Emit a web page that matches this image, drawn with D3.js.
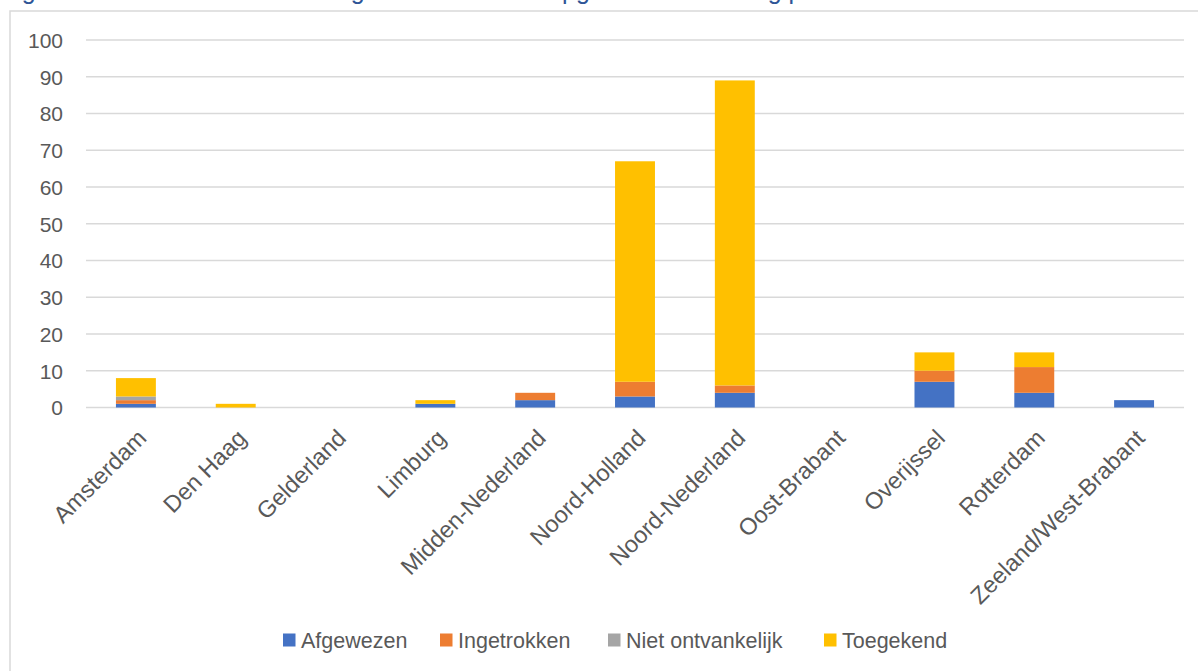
<!DOCTYPE html>
<html><head><meta charset="utf-8">
<script src="https://cdn.jsdelivr.net/npm/d3@7"></script>
<style>
html,body{margin:0;padding:0;background:#fff;}
svg{display:block;}
text{font-family:"Liberation Sans",Arial,sans-serif;}
</style></head>
<body>
<svg id="chart" width="1198" height="671"></svg>
<script>
const categories = ["Amsterdam","Den Haag","Gelderland","Limburg","Midden-Nederland","Noord-Holland","Noord-Nederland","Oost-Brabant","Overijssel","Rotterdam","Zeeland/West-Brabant"];
const seriesNames = ["Afgewezen","Ingetrokken","Niet ontvankelijk","Toegekend"];
const afgewezen       = [1,0,0,1,2,3,4,0,7,4,2];
const ingetrokken     = [1,0,0,0,2,4,2,0,3,7,0];
const nietOntvankelijk= [1,0,0,0,0,0,0,0,0,0,0];
const toegekend       = [5,1,0,1,0,60,83,0,5,4,0];
const yTicks = [0,10,20,30,40,50,60,70,80,90,100];
const colors = ["#4472C4","#ED7D31","#A5A5A5","#FFC000"];
const titleText = "Figuur 7: Totaal aantal beslissingen in verzoeken opgave en afdoening per arrondissement";

const svg = d3.select("#chart");
const W = 1198, H = 671;
const plot = {left:86, right:1184, top:40, bottom:407.5};

// title, cut off by the top edge as in the reference (only descenders visible)
svg.append("text").attr("x",1).attr("y",-1)
  .attr("font-size",25).attr("fill","#2F5597").text(titleText);

// chart frame
svg.append("rect").attr("x",10).attr("y",11).attr("width",W+20).attr("height",H+20)
  .attr("fill","none").attr("stroke","#D9D9D9").attr("stroke-width",1.5);

const x = d3.scaleBand().domain(categories).range([plot.left, plot.right]).paddingInner(0.6).paddingOuter(0.3);
const y = d3.scaleLinear().domain([0,100]).range([plot.bottom, plot.top]);

// gridlines
svg.append("g").selectAll("line").data(yTicks).join("line")
  .attr("x1",plot.left).attr("x2",plot.right)
  .attr("y1",d=>y(d)).attr("y2",d=>y(d))
  .attr("stroke","#D9D9D9").attr("stroke-width",1.5);

// y axis labels
const yAxis = d3.axisLeft(y).tickValues(yTicks).tickSize(0).tickPadding(0);
const ya = svg.append("g").attr("transform",`translate(63,0)`).call(yAxis);
ya.select(".domain").remove();
ya.selectAll("text").attr("font-size",21).attr("fill","#595959")
  .attr("font-family","Liberation Sans, Arial, sans-serif").attr("dy","0.35em");

// stacked bars
const table = categories.map((c,i)=>({cat:c, "Afgewezen":afgewezen[i], "Ingetrokken":ingetrokken[i], "Niet ontvankelijk":nietOntvankelijk[i], "Toegekend":toegekend[i]}));
const stack = d3.stack().keys(seriesNames)(table);
svg.append("g").selectAll("g").data(stack).join("g")
  .attr("fill",(d,i)=>colors[i])
  .selectAll("rect").data(d=>d).join("rect")
  .attr("x",d=>x(d.data.cat)).attr("width",x.bandwidth())
  .attr("y",d=>y(d[1])).attr("height",d=>Math.max(0,y(d[0])-y(d[1])));

// category labels
const xAxis = d3.axisBottom(x).tickSize(0).tickPadding(0);
const xa = svg.append("g").attr("transform",`translate(0,${plot.bottom})`).call(xAxis);
xa.select(".domain").remove();
xa.selectAll("text").attr("font-size",23.5).attr("fill","#595959")
  .attr("font-family","Liberation Sans, Arial, sans-serif")
  .attr("text-anchor","end").attr("dy",null).attr("y",0)
  .attr("transform","translate(12,32) rotate(-45)");

// legend
const legendX = [283,440,608,824];
const lg = svg.append("g").selectAll("g").data(seriesNames).join("g")
  .attr("transform",(d,i)=>`translate(${legendX[i]},640)`);
lg.append("rect").attr("x",0).attr("y",-6.5).attr("width",12.5).attr("height",13).attr("fill",(d,i)=>colors[i]);
lg.append("text").attr("x",18).attr("y",0).attr("dy","0.35em")
  .attr("font-size",21.5).attr("fill","#595959").text(d=>d);
</script>
</body></html>
